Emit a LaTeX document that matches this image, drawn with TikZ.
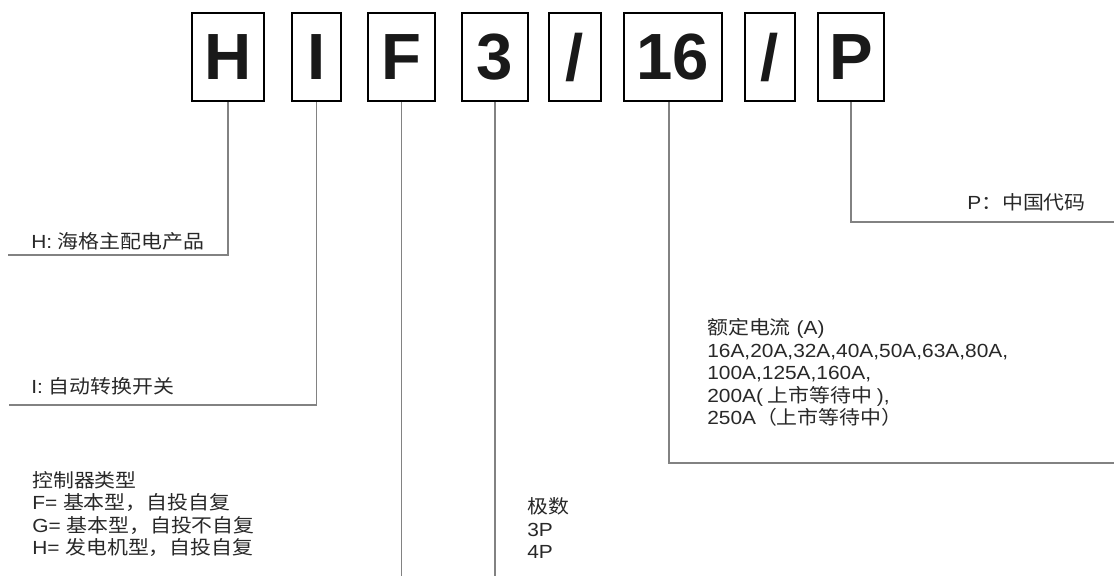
\documentclass[tikz,border=0pt]{standalone}
\usepackage{fontspec}
\setmainfont[FakeStretch=1.1]{Liberation Sans}
\newfontfamily\cjk[FakeStretch=1.1]{Noto Sans CJK SC}
\newfontfamily\bigf{Liberation Sans}
\newcommand{\zh}[1]{{\cjk #1}}
\definecolor{conn}{RGB}{130,130,130}
\definecolor{txt}{RGB}{40,40,40}
\tikzset{
  codebox/.style={draw=black, line width=1.8pt, minimum height=65.7pt, inner sep=0pt,
    font=\bigf\fontsize{49pt}{49pt}\selectfont\bfseries, text=black!90},
  lbl/.style={inner sep=0pt, align=left, text=txt, font=\fontsize{14.25pt}{16.9pt}\selectfont},
  conline/.style={draw=conn, line width=0.9pt}
}
\begin{document}
\begin{tikzpicture}[x=0.75pt,y=-0.75pt]
\useasboundingbox (0,0) rectangle (1114,576);
% code boxes
\node[codebox, minimum width=53.7pt] (bH) at (228,57) {H};
\node[codebox, minimum width=36.45pt] (bI) at (316.5,57) {I};
\node[codebox, minimum width=49.95pt] (bF) at (401.5,57) {F};
\node[codebox, minimum width=49.2pt] (b3) at (495,57) {3};
\node[codebox, minimum width=38.7pt] (bs1) at (575,57) {/};
\node[codebox, minimum width=73.2pt] (b16) at (673,57) {16};
\node[codebox, minimum width=37.2pt] (bs2) at (770,57) {/};
\node[codebox, minimum width=49.2pt] (bP) at (851,57) {P};
% labels
\node[lbl, anchor=west] (lH) at (31,241) {H: \zh{海格主配电产品}};
\node[lbl, anchor=west] (lI) at (31,386) {I: \zh{自动转换开关}};
\node[lbl, anchor=west] (lF) at (32,514) {\zh{控制器类型}\\F= \zh{基本型，自投自复}\\G= \zh{基本型，自投不自复}\\H= \zh{发电机型，自投自复}};
\node[lbl, anchor=west] (l3) at (527,528) {\zh{极数}\\3P\\4P};
\node[lbl, anchor=west] (l16) at (707,372.5) {\zh{额定电流} (A)\\16A,20A,32A,40A,50A,63A,80A,\\100A,125A,160A,\\200A(\zh{ 上市等待中 }),\\250A\zh{（上市等待中）}};
\node[lbl, anchor=west] (lP) at (967,202) {P\zh{：中国代码}};
% connector ends
\coordinate (eH) at (8,255);
\coordinate (eI) at (9,405);
\coordinate (eF) at (400,576);
\coordinate (e3) at (493,576);
\coordinate (e16) at (1114,463);
\coordinate (eP) at (1114,222);
\draw[conline] (bH.south) |- (eH);
\draw[conline] (bI.south) |- (eI);
\draw[conline] (bF.south) -- (bF.south |- eF);
\draw[conline] (b3.south) -- (b3.south |- e3);
\draw[conline] ([xshift=-3pt]b16.south) |- (e16);
\draw[conline] (bP.south) |- (eP);
\end{tikzpicture}
\end{document}
